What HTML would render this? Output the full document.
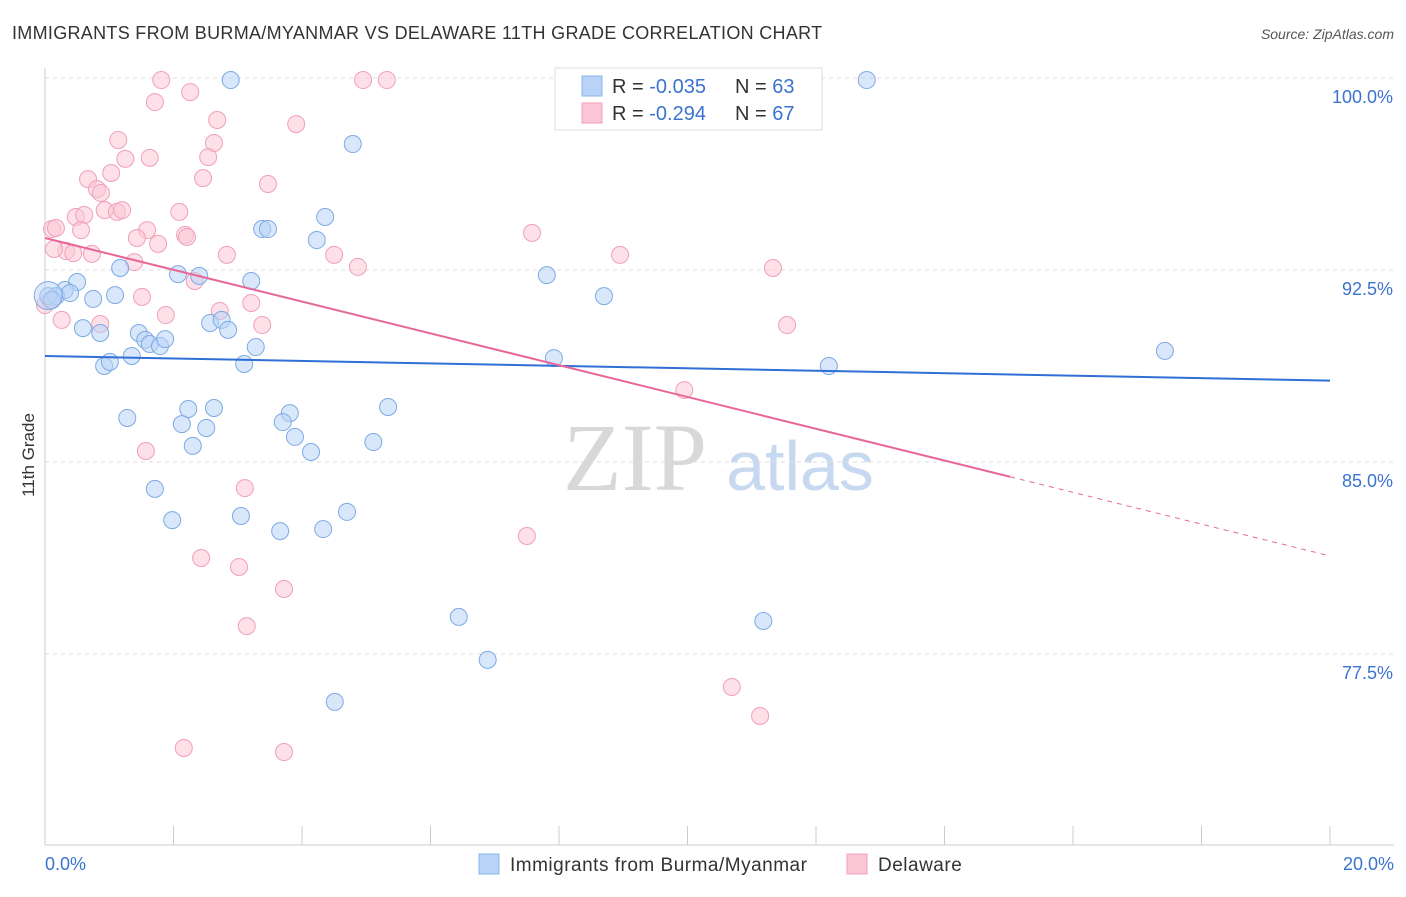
<!DOCTYPE html>
<html><head><meta charset="utf-8"><style>
body{margin:0;background:#fff;font-family:"Liberation Sans",sans-serif;}
</style></head><body>
<svg id="c" width="1406" height="892" xmlns="http://www.w3.org/2000/svg">
<text x="12" y="39" font-size="18" letter-spacing="0.3" fill="#333">IMMIGRANTS FROM BURMA/MYANMAR VS DELAWARE 11TH GRADE CORRELATION CHART</text>
<text x="1394" y="39" font-size="14" fill="#555" font-style="italic" text-anchor="end">Source: ZipAtlas.com</text>
<text x="34" y="455" font-size="17" fill="#333" text-anchor="middle" transform="rotate(-90 34 455)">11th Grade</text>
<g><text x="635" y="490" font-size="96" font-family="Liberation Serif,serif" fill="#d8d8d8" text-anchor="middle">ZIP</text><text x="800" y="490" font-size="70" fill="#c7d9f0" text-anchor="middle">atlas</text></g>
<g id="grid"></g><g id="axes"></g><g id="pts"></g><g id="lines"></g>
<g>
<rect x="555" y="68" width="267" height="62" fill="#fff" stroke="#ddd"/>
<rect x="582" y="76" width="20" height="20" fill="#b8d3f5" stroke="#8ab4ea"/>
<rect x="582" y="103" width="20" height="20" fill="#fbc7d6" stroke="#f0a0b8"/>
<text x="612" y="93" font-size="20" fill="#333">R = <tspan fill="#3a73d0">-0.035</tspan><tspan x="735">N = </tspan><tspan fill="#3a73d0">63</tspan></text>
<text x="612" y="120" font-size="20" fill="#333">R = <tspan fill="#3a73d0"> -0.294</tspan><tspan x="735">N = </tspan><tspan fill="#3a73d0">67</tspan></text>
</g>
<g>
<rect x="479" y="854" width="20" height="20" fill="#b8d3f5" stroke="#8ab4ea"/>
<text x="510" y="871" font-size="19" letter-spacing="0.5" fill="#333">Immigrants from Burma/Myanmar</text>
<rect x="847" y="854" width="20" height="20" fill="#fbc7d6" stroke="#f0a0b8"/>
<text x="878" y="871" font-size="19" letter-spacing="0.5" fill="#333">Delaware</text>
</g>
</svg>
<script>
const yTicks=[100,92.5,85,77.5];
const yTickLabels=["100.0%","92.5%","85.0%","77.5%"];
const xTickLabels=["0.0%","20.0%"];
const blueX=[2.89,12.79,4.79,3.38,3.47,4.36,4.23,1.17,2.07,2.40,3.21,7.81,8.70,0.50,0.31,0.17,0.39,0.75,1.09,0.59,0.86,1.46,1.56,1.63,1.79,1.87,2.57,2.75,2.85,3.28,1.35,0.92,1.01,3.10,7.92,12.20,17.43,1.28,2.23,2.63,2.13,2.51,2.30,3.81,3.70,3.89,4.14,5.34,5.11,1.71,1.98,3.05,3.66,4.33,4.70,6.44,11.18,6.89,4.51,0.05,0.11];
const blueY=[99.92,99.92,97.42,94.10,94.10,94.57,93.67,92.58,92.34,92.27,92.07,92.30,91.48,92.03,91.72,91.48,91.60,91.37,91.52,90.23,90.04,90.04,89.77,89.61,89.53,89.80,90.43,90.55,90.16,89.49,89.14,88.75,88.91,88.83,89.06,88.75,89.34,86.72,87.07,87.11,86.48,86.33,85.63,86.91,86.56,85.98,85.39,87.15,85.78,83.95,82.73,82.89,82.30,82.38,83.05,78.95,78.79,77.27,75.63,91.48,91.33];
const pinkX=[1.81,2.26,4.95,5.32,1.71,2.68,3.91,1.14,2.63,1.63,1.25,2.54,1.03,0.67,2.46,3.47,0.81,0.87,0.93,1.12,1.20,2.09,0.48,0.61,0.11,0.17,0.56,1.59,1.43,1.76,2.18,2.21,7.58,0.33,0.44,0.73,2.83,4.50,8.95,1.39,4.87,11.33,0.14,1.51,2.33,3.21,2.72,1.88,0.26,0.86,3.38,11.55,9.95,1.57,3.11,7.50,2.43,3.02,3.72,3.14,10.69,11.13,2.16,3.72,0,0.08];
const pinkY=[99.92,99.45,99.92,99.92,99.06,98.36,98.20,97.58,97.46,96.88,96.84,96.91,96.29,96.05,96.09,95.86,95.66,95.51,94.84,94.77,94.84,94.77,94.57,94.65,94.10,94.14,94.06,94.06,93.75,93.52,93.87,93.79,93.95,93.24,93.16,93.13,93.09,93.09,93.09,92.81,92.62,92.58,93.32,91.45,92.07,91.21,90.90,90.74,90.55,90.39,90.35,90.35,87.81,85.43,83.98,82.11,81.25,80.90,80.04,78.59,76.21,75.08,73.83,73.67,91.13,91.33];
const blueTrend=[89.14,88.18];
const pinkTrend=[93.75,81.33];
const pinkSolidEnd=15.02;
const NS="http://www.w3.org/2000/svg";
const X=v=>45+v*64.25, Y=v=>78+(100-v)*25.6;
function mk(tag,attrs,parent){const e=document.createElementNS(NS,tag);for(const k in attrs)e.setAttribute(k,attrs[k]);document.getElementById(parent).appendChild(e);return e;}
yTicks.forEach((t,i)=>{
 const l=mk('line',{x1:45,x2:1394,y1:Y(t),y2:Y(t),stroke:'#ddd','stroke-dasharray':'4,4'},'grid');
 
 
 const tx=mk('text',{x:1393,y:Y(t)+25,'font-size':18,fill:'#3a73d0','text-anchor':'end'},'grid');
 tx.textContent=yTickLabels[i];
 
 
});
let a=mk('line',{x1:45,x2:45,y1:68,y2:845,stroke:'#ccc'},'axes');


a=mk('line',{x1:45,x2:1394,y1:845,y2:845,stroke:'#ccc'},'axes');


for(let i=0;i<=10;i++){const t=mk('line',{x1:X(i*2),x2:X(i*2),y1:826,y2:845,stroke:'#ccc'},'axes');
 
 }
[[0,'start',45],[20,'end',1394]].forEach((d,i)=>{const t=mk('text',{x:d[2],y:870,'font-size':18,fill:'#3a73d0','text-anchor':d[1]},'axes');t.textContent=xTickLabels[i];
 
 });
function pts(xs,ys,fill,stroke,name){xs.forEach((x,i)=>{const c=mk('circle',{cx:X(x),cy:Y(ys[i]),r:8.5,fill:fill,'fill-opacity':0.55,stroke:stroke,'stroke-width':1},'pts');
 
 });}
pts(pinkX,pinkY,'#fbc7d6','#f0a0b8','delaware-point');
pts(blueX,blueY,'#b8d3f5','#7eaae6','burma-point');
let bl=mk('circle',{cx:X(0.05),cy:Y(91.5),r:14,fill:'#b8d3f5','fill-opacity':0.5,stroke:'#7eaae6'},'pts');


let ln=mk('line',{x1:X(0),y1:Y(blueTrend[0]),x2:X(20),y2:Y(blueTrend[1]),stroke:'#2f6fd6','stroke-width':2},'lines');


const pAt=x=>pinkTrend[0]+(pinkTrend[1]-pinkTrend[0])*x/20;
ln=mk('line',{x1:X(0),y1:Y(pinkTrend[0]),x2:X(pinkSolidEnd),y2:Y(pAt(pinkSolidEnd)),stroke:'#e8679a','stroke-width':2},'lines');


ln=mk('line',{x1:X(pinkSolidEnd),y1:Y(pAt(pinkSolidEnd)),x2:X(20),y2:Y(pinkTrend[1]),stroke:'#e8679a','stroke-width':1,'stroke-dasharray':'5,5'},'lines');


</script>
</body></html>
